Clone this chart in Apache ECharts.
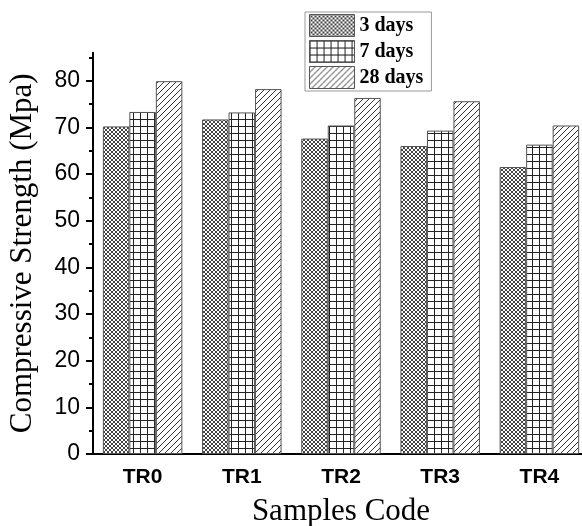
<!DOCTYPE html>
<html lang="en">
<head>
    <meta charset="utf-8">
    <title>Compressive Strength</title>
    <script src="https://cdn.jsdelivr.net/npm/echarts@6/dist/echarts.min.js"></script>
</head>
<style type="text/css">
    html, body { margin: 0; padding: 0; background: #fff; }
    #container { width: 582px; height: 526px; }
</style>
<body>
<div id="container"></div>
<script>
    var categories = ['TR0', 'TR1', 'TR2', 'TR3', 'TR4'];
    var seriesNames = ['3 days', '7 days', '28 days'];
    var days3 = [70.2, 71.7, 67.6, 66.0, 61.5];
    var days7 = [73.3, 73.2, 70.4, 69.3, 66.3];
    var days28 = [79.9, 78.2, 76.3, 75.6, 70.4];
    var majorTicks = [0, 10, 20, 30, 40, 50, 60, 70, 80];
    var minorTicks = [5, 15, 25, 35, 45, 55, 65, 75, 85];

    var serif = "'Liberation Serif', 'Times New Roman', serif";
    var sans = "'Liberation Sans', Arial, sans-serif";

    // hatch fills drawn on small tiles
    function tile(size, color, draw) {
        var c = document.createElement('canvas');
        c.width = size;
        c.height = size;
        var ctx = c.getContext('2d');
        ctx.fillStyle = '#fff';
        ctx.fillRect(0, 0, size, size);
        ctx.strokeStyle = color;
        ctx.lineWidth = 1;
        draw(ctx, size);
        return { image: c, repeat: 'repeat' };
    }
    var crossHatch = tile(4, '#444', function (ctx, s) {
        ctx.beginPath();
        ctx.moveTo(0, 0); ctx.lineTo(s, s);
        ctx.moveTo(0, s); ctx.lineTo(s, 0);
        ctx.stroke();
    });
    var gridHatch = tile(7, '#222', function (ctx, s) {
        ctx.beginPath();
        ctx.moveTo(0.5, 0); ctx.lineTo(0.5, s);
        ctx.moveTo(0, 0.5); ctx.lineTo(s, 0.5);
        ctx.stroke();
    });
    var diagHatch = tile(6, '#333', function (ctx, s) {
        ctx.beginPath();
        ctx.moveTo(0, s); ctx.lineTo(s, 0);
        ctx.moveTo(-1, 1); ctx.lineTo(1, -1);
        ctx.moveTo(s - 1, s + 1); ctx.lineTo(s + 1, s - 1);
        ctx.stroke();
    });

    var myChart = echarts.init(document.getElementById('container'));

    function barSeries(name, data, fill) {
        return {
            name: name,
            type: 'bar',
            data: data,
            barWidth: 26.5,
            barGap: '0%',
            itemStyle: { color: fill, borderColor: '#555', borderWidth: 1 }
        };
    }

    var option = {
        animation: false,
        backgroundColor: '#fff',
        legend: {
            orient: 'vertical',
            left: 305,
            top: 12,
            itemWidth: 45,
            itemHeight: 22,
            itemGap: 3,
            padding: [2, 8, 2, 4],
            borderColor: '#999',
            borderWidth: 1,
            icon: 'rect',
            data: seriesNames,
            itemStyle: { borderWidth: 1, borderColor: '#555' },
            textStyle: { fontFamily: serif, fontWeight: 'bold', fontSize: 20, lineHeight: 20, color: '#000' }
        },
        grid: { left: 93, right: -7, top: 52.7, bottom: 72, containLabel: false, outerBoundsMode: 'none' },
        xAxis: [
            {
                type: 'category',
                data: categories,
                position: 'bottom',
                name: 'Samples Code',
                nameLocation: 'middle',
                nameGap: 42,
                nameTextStyle: { fontFamily: serif, fontSize: 31, color: '#000' },
                axisLine: { lineStyle: { color: '#000', width: 2 } },
                axisTick: { alignWithLabel: true, length: 8, lineStyle: { color: '#000', width: 2 } },
                axisLabel: { margin: 13, fontFamily: sans, fontWeight: 'bold', fontSize: 21, color: '#000' }
            },
            {
                type: 'category',
                data: categories,
                position: 'bottom',
                axisLine: { show: false },
                axisTick: { length: 4, lineStyle: { color: '#000', width: 2 } },
                axisLabel: { show: false }
            }
        ],
        yAxis: [
            {
                type: 'value',
                min: 0,
                max: 86,
                interval: 10,
                position: 'left',
                name: 'Compressive Strength (Mpa)',
                nameLocation: 'middle',
                nameGap: 55,
                nameTextStyle: { fontFamily: serif, fontSize: 31, color: '#000' },
                splitLine: { show: false },
                axisLine: { show: true, lineStyle: { color: '#000', width: 2 } },
                axisTick: { show: true, length: 7, customValues: majorTicks, lineStyle: { color: '#000', width: 2 } },
                axisLabel: { margin: 13, customValues: majorTicks, fontFamily: sans, fontSize: 23, color: '#000' }
            },
            {
                type: 'value',
                min: 0,
                max: 86,
                interval: 10,
                position: 'left',
                splitLine: { show: false },
                axisLine: { show: false },
                axisTick: { show: true, length: 4, customValues: minorTicks, lineStyle: { color: '#000', width: 2 } },
                axisLabel: { show: false }
            }
        ],
        series: [
            barSeries(seriesNames[0], days3, crossHatch),
            barSeries(seriesNames[1], days7, gridHatch),
            barSeries(seriesNames[2], days28, diagHatch)
        ]
    };
    myChart.setOption(option, true);
</script>
</body>
</html>
